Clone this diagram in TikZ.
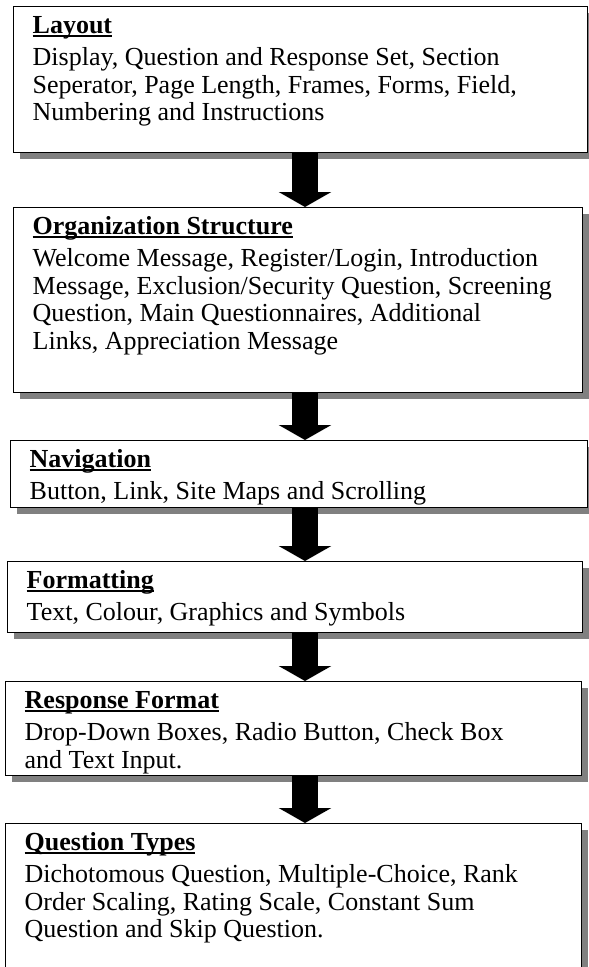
\documentclass[tikz,border=0pt]{standalone}
\usepackage{fontspec}
\setmainfont{Liberation Serif}
\usetikzlibrary{arrows.meta, shadows}

\definecolor{shadowgray}{HTML}{808080}

\newcommand{\ulbold}[1]{\setbox0\hbox{\textbf{#1}}\rlap{\rule[-3.5pt]{\wd0}{1.8pt}}\box0}
\newcommand{\stagetext}[4]{\parbox[t][#2pt][t]{#1pt}{\rule{0pt}{22pt}\ulbold{#3}\\[4.5pt]#4}}

\tikzset{
    stagebox/.style={draw, line width=1.4pt, fill=white, anchor=north west,
        inner xsep=19pt, inner ysep=5pt,
        drop shadow={shadow xshift=6pt, shadow yshift=-6pt, fill=shadowgray, opacity=1}},
    flowarrow/.style={line width=26pt, -{Triangle[width=52pt, length=15pt]}}
}

\begin{document}
\begin{tikzpicture}[x=1pt, y=-1pt, font=\fontsize{26pt}{27.5pt}\selectfont]

    \useasboundingbox (0,0) rectangle (589,967);
    \coordinate (axis) at (305,0);

    \node[stagebox] (layout) at (13,6) {\stagetext{536}{136}{Layout}{Display, Question and Response Set, Section\\
        Seperator, Page Length, Frames, Forms, Field,\\
        Numbering and Instructions}};

    \node[stagebox] (organization) at (13,207) {\stagetext{531}{175}{Organization Structure}{Welcome Message, Register/Login, Introduction\\
        Message, Exclusion/Security Question, Screening\\
        Question, Main Questionnaires, Additional\\
        Links, Appreciation Message}};

    \node[stagebox] (navigation) at (10,440) {\stagetext{539}{57}{Navigation}{Button, Link, Site Maps and Scrolling}};

    \node[stagebox] (formatting) at (7,561) {\stagetext{537}{61}{Formatting}{Text, Colour, Graphics and Symbols}};

    \node[stagebox] (response) at (5,681) {\stagetext{538}{84}{Response Format}{Drop-Down Boxes, Radio Button, Check Box\\
        and Text Input.}};

    \node[stagebox] (questions) at (5,823) {\stagetext{538}{140}{Question Types}{Dichotomous Question, Multiple-Choice, Rank\\
        Order Scaling, Rating Scale, Constant Sum\\
        Question and Skip Question.}};

    % arrows between the stages
    \draw[flowarrow] (layout.south -| axis) -- (organization.north -| axis);
    \draw[flowarrow] (organization.south -| axis) -- (navigation.north -| axis);
    \draw[flowarrow] (navigation.south -| axis) -- (formatting.north -| axis);
    \draw[flowarrow] (formatting.south -| axis) -- (response.north -| axis);
    \draw[flowarrow] (response.south -| axis) -- (questions.north -| axis);

\end{tikzpicture}
\end{document}
